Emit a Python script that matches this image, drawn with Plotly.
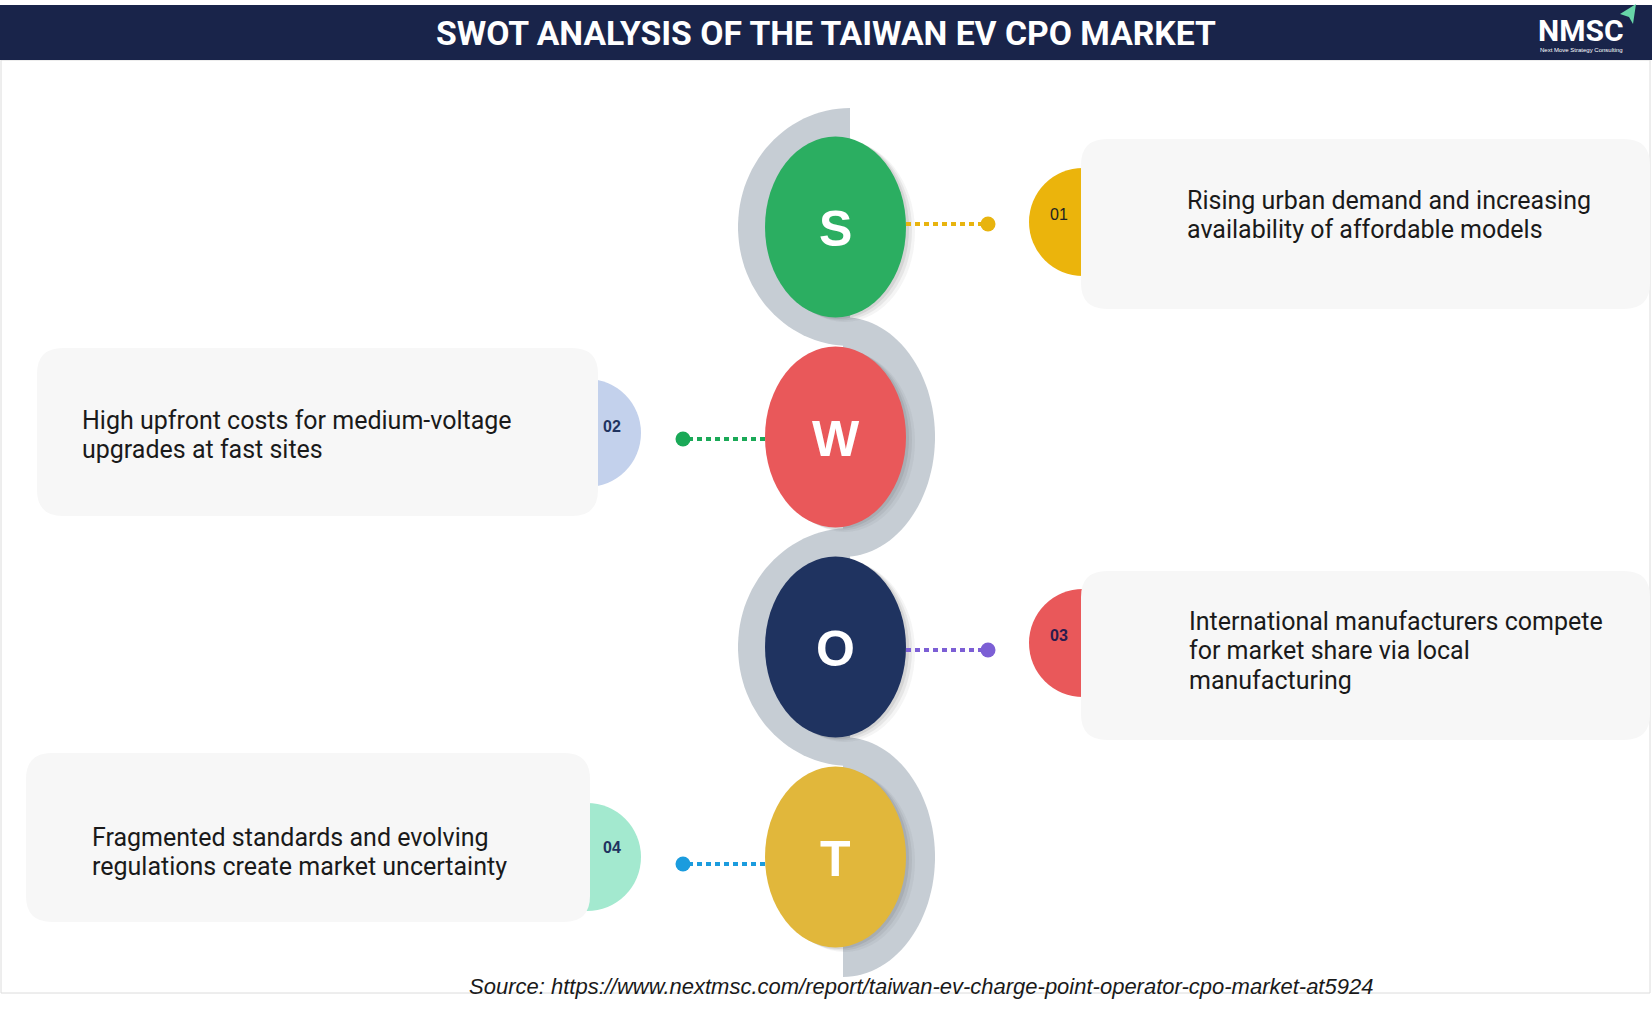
import numpy as np
import plotly.graph_objects as go

# swot content
letters = ["S", "W", "O", "T"]
letter_colors = ["#2bae61", "#e9585a", "#1f3360", "#e1b73b"]
numbers = ["01", "02", "03", "04"]
number_fills = ["#ebb40c", "#c3d1ec", "#e9585a", "#a3e9cf"]
number_fonts = ["#222222", "#1f3360", "#2b1b4d", "#1f3360"]
number_bold = [False, True, True, True]
dot_colors = ["#e8b40f", "#1aa957", "#7c5fd5", "#1b9cde"]
descriptions = [
    ["Rising urban demand and increasing", "availability of affordable models"],
    ["High upfront costs for medium-voltage", "upgrades at fast sites"],
    ["International manufacturers compete", "for market share via local", "manufacturing"],
    ["Fragmented standards and evolving", "regulations create market uncertainty"],
]
title = "SWOT ANALYSIS OF THE TAIWAN EV CPO MARKET"
source = "Source: https://www.nextmsc.com/report/taiwan-ev-charge-point-operator-cpo-market-at5924"

# canvas in pixels
W, H = 1652, 1014

# layout of the centre column
cx, rx, ry = 835.5, 70.5, 90.5
row_y = [227, 437, 647, 857]
conn_y = [224, 439, 650, 864]
side = [1, -1, 1, -1]  # 1: box on the right, -1: box on the left

# text boxes (x0, x1, y0, y1)
boxes = [(1081, 1650, 139, 309), (37, 598, 348, 516),
         (1081, 1650, 571, 740), (26, 590, 753, 922)]
num_cy = [222, 433, 643, 857]
num_label_y = [214, 426, 635, 847]
text_x = [1185, 80, 1187, 90]
text_top = [200, 420, 621, 837]
line_gap = 29.5


def ellipse_path(x0, y0, rx_, ry_, start, stop, n=60):
    t = np.linspace(start, stop, n)
    xs = x0 + rx_ * np.cos(t)
    ys = y0 + ry_ * np.sin(t)
    return "M " + " L ".join(f"{a:.1f},{b:.1f}" for a, b in zip(xs, ys)) + " Z"


def rounded_rect(x0, x1, y0, y1, r=26):
    return (f"M {x0 + r},{y0} L {x1 - r},{y0} Q {x1},{y0} {x1},{y0 + r} "
            f"L {x1},{y1 - r} Q {x1},{y1} {x1 - r},{y1} L {x0 + r},{y1} "
            f"Q {x0},{y1} {x0},{y1 - r} L {x0},{y0 + r} Q {x0},{y0} {x0 + r},{y0} Z")


shapes = []
annotations = []

# page frame and header band
shapes.append(dict(type="rect", x0=1, x1=1650, y0=60, y1=993,
                   line=dict(color="#dcdcdc", width=1), fillcolor="white"))
shapes.append(dict(type="rect", x0=0, x1=W, y0=5, y1=60,
                   line=dict(width=0), fillcolor="#19244a"))
# little green arrow of the logo
shapes.append(dict(type="path", path="M 1620,14 L 1636,4 L 1633,24 L 1629,17 Z",
                   line=dict(width=0), fillcolor="#67d6a8"))

# grey s-shaped band behind the letter circles
for i, y in enumerate(row_y):
    if side[i] == 1:
        path = ellipse_path(850, y, 112, 119, np.pi / 2, 3 * np.pi / 2)
    else:
        path = ellipse_path(843, y, 92, 120, -np.pi / 2, np.pi / 2)
    shapes.append(dict(type="path", path=path, line=dict(width=0), fillcolor="#c6cdd4"))

# letter circles with a soft shadow
for i, y in enumerate(row_y):
    for k, a in [(9, 0.05), (6, 0.08), (3, 0.10)]:
        shapes.append(dict(type="circle", x0=cx - rx + k, x1=cx + rx + k,
                           y0=y - ry + k / 2, y1=y + ry + k / 2,
                           line=dict(width=0), fillcolor=f"rgba(60,60,60,{a})"))
    shapes.append(dict(type="circle", x0=cx - rx, x1=cx + rx, y0=y - ry, y1=y + ry,
                       line=dict(width=0), fillcolor=letter_colors[i]))
    annotations.append(dict(x=cx, y=y + 2, text=f"<b>{letters[i]}</b>", showarrow=False,
                            font=dict(family="Arial", size=50, color="white"),
                            xanchor="center", yanchor="middle"))

# number tabs and text boxes
for i, (x0, x1, y0, y1) in enumerate(boxes):
    ncx = 1083 if side[i] == 1 else 587
    shapes.append(dict(type="circle", x0=ncx - 54, x1=ncx + 54,
                       y0=num_cy[i] - 54, y1=num_cy[i] + 54,
                       line=dict(width=0), fillcolor=number_fills[i]))
    shapes.append(dict(type="path", path=rounded_rect(x0, x1, y0, y1),
                       line=dict(width=0), fillcolor="#f7f7f7"))
    lx = 1059 if side[i] == 1 else 612
    label = f"<b>{numbers[i]}</b>" if number_bold[i] else numbers[i]
    annotations.append(dict(x=lx, y=num_label_y[i], text=label, showarrow=False,
                            font=dict(family="Arial", size=16, color=number_fonts[i]),
                            xanchor="center", yanchor="middle"))
    for j, line in enumerate(descriptions[i]):
        annotations.append(dict(x=text_x[i], y=text_top[i] + j * line_gap, text=line,
                                showarrow=False,
                                font=dict(family="Roboto", size=25, color="#1a1a1a"),
                                xanchor="left", yanchor="middle", align="left"))

for s in shapes:
    s.update(xref="x", yref="y", layer="below")

fig = go.Figure()

# dotted connectors from the circles to the number tabs
for i, y in enumerate(conn_y):
    if side[i] == 1:
        xs = [cx + rx, 988]
    else:
        xs = [cx - rx, 683]
    fig.add_trace(go.Scatter(x=xs, y=[y, y], mode="lines",
                             line=dict(color=dot_colors[i], width=4, dash="5px,4px"),
                             hoverinfo="skip", showlegend=False))
    fig.add_trace(go.Scatter(x=[xs[1]], y=[y], mode="markers",
                             marker=dict(color=dot_colors[i], size=15),
                             hoverinfo="skip", showlegend=False))

# header title and logo
annotations.append(dict(x=826, y=33, text=f"<b>{title}</b>", showarrow=False,
                        font=dict(family="Roboto", size=33.7, color="white"),
                        xanchor="center", yanchor="middle"))
annotations.append(dict(x=1581, y=30, text="<b>NMSC</b>", showarrow=False,
                        font=dict(family="Roboto", size=30, color="white"),
                        xanchor="center", yanchor="middle"))
annotations.append(dict(x=1581, y=50, text="Next Move Strategy Consulting", showarrow=False,
                        font=dict(family="Arial", size=6, color="white"),
                        xanchor="center", yanchor="middle"))

# source line
annotations.append(dict(x=921, y=986, text=f"<i>{source}</i>", showarrow=False,
                        font=dict(family="Arial", size=22, color="#1a1a1a"),
                        xanchor="center", yanchor="middle"))

for a in annotations:
    a.update(xref="x", yref="y")

fig.update_layout(
    width=W, height=H,
    margin=dict(l=0, r=0, t=0, b=0),
    paper_bgcolor="white", plot_bgcolor="white",
    shapes=shapes, annotations=annotations,
    xaxis=dict(range=[0, W], visible=False, fixedrange=True),
    yaxis=dict(range=[H, 0], visible=False, fixedrange=True),
    showlegend=False,
)

# drop the default page margin so the figure sits at the window corner
fig.write_html("out.html", config={"displayModeBar": False},
               post_script="document.body.style.margin='0px';")
